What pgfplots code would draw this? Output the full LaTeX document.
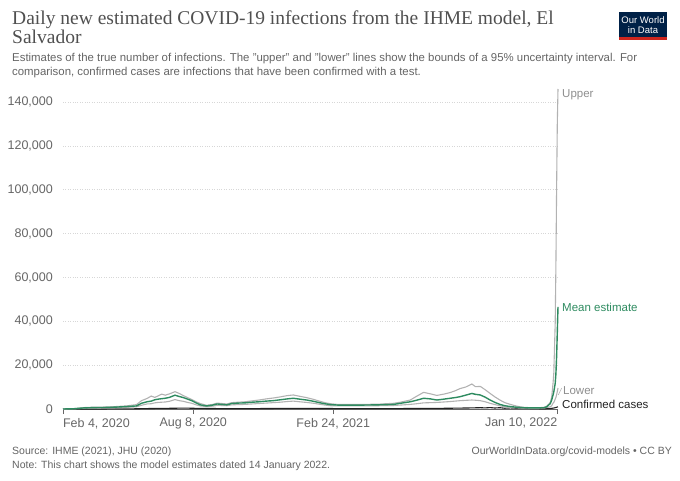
\documentclass[border=0pt]{standalone}
\usepackage{fontspec}
\setmainfont{Liberation Sans}
\newfontfamily\titlefont{Liberation Serif}
\usepackage{pgfplots}
\usepackage{pgfplotstable}
\pgfplotsset{compat=1.18}
\definecolor{titlecol}{RGB}{80,80,80}
\definecolor{subcol}{RGB}{100,100,100}
\definecolor{tickcol}{RGB}{102,102,102}
\definecolor{gridcol}{RGB}{215,215,215}
\definecolor{bandcol}{RGB}{178,178,178}
\definecolor{meancol}{RGB}{46,139,96}
\definecolor{confcol}{RGB}{34,34,34}
\definecolor{navy}{RGB}{0,33,71}
\definecolor{owidred}{RGB}{206,38,30}

\pgfplotstableread{
day mean upper lower conf
0 0 0 0 0
15 100 150 60 0
30 500 650 350 5
45 650 850 450 10
60 700 900 500 20
75 850 1100 600 40
90 1100 1400 750 60
105 1400 2000 1000 100
112 2600 3800 1700 150
120 3300 4800 2300 200
126 3600 5900 2400 220
131 4200 5300 2800 250
136 4500 6000 3000 280
141 4700 6800 3100 300
146 4900 6300 3200 300
152 5300 6900 3500 320
160 6300 7900 4300 350
166 5700 7100 3800 380
172 5200 6100 3500 400
178 4500 5200 3000 380
184 3800 4300 2600 350
190 2800 3300 1900 300
196 1900 2500 1400 270
205 1400 1700 1100 250
214 1800 2100 1300 220
220 2300 2700 1700 200
227 2100 2500 1600 180
234 1900 2300 1500 170
241 2500 2900 1900 160
250 2700 3100 2000 150
260 2800 3300 2100 160
270 3100 3700 2300 180
280 3300 4100 2500 200
290 3600 4600 2700 230
300 3800 5000 2900 250
310 4200 5500 3100 270
320 4600 6100 3400 300
329 4900 6400 3600 320
338 4500 5800 3300 310
348 4100 5200 3000 290
358 3500 4400 2600 270
366 2900 3600 2200 250
374 2400 2900 1800 230
382 2000 2400 1500 210
392 1800 2100 1400 200
410 1800 2100 1400 190
430 1800 2100 1400 180
450 1900 2200 1500 180
472 2100 2600 1600 190
482 2600 3100 1800 200
496 3300 4100 2100 220
505 4000 5800 2400 240
515 4900 7600 2800 260
525 4600 6900 2900 280
534 4100 6200 3000 300
544 4500 6800 3200 320
553 4900 7500 3400 350
560 5200 8300 3600 380
567 5600 9300 3800 420
575 6300 10000 3950 450
584 7100 11400 4100 500
589 6700 10200 4000 550
596 6400 10300 3800 600
603 5400 8800 3300 500
610 4100 7100 2600 650
617 3000 5500 2000 450
624 2100 4100 1500 600
631 1500 2900 1000 350
639 1100 2100 700 500
648 800 1300 500 300
657 600 800 400 400
667 500 600 350 250
678 500 550 350 150
687 600 750 400 100
691 1000 1300 700 150
696 2500 3000 1000 200
698 4100 5500 1500 300
700 6500 12000 2700 400
701 7800 16400 3000 450
703 11700 39000 4500 600
704 16000 65000 5300 700
705 23800 100000 6500 800
706 35000 130000 8000 900
707 46600 146000 9600 1000
}\data

\begin{document}
\begin{tikzpicture}[x=1pt,y=1pt]
\path[use as bounding box] (0,0) rectangle (680,480);
% title
\node[anchor=base west, inner sep=0pt, font=\titlefont\fontsize{19.5}{20}\selectfont, text=titlecol] at (12,455) {Daily new estimated COVID-19 infections from the IHME model, El};
\node[anchor=base west, inner sep=0pt, font=\titlefont\fontsize{19.5}{20}\selectfont, text=titlecol] at (12,436) {Salvador};
% subtitle
\node[anchor=base west, inner sep=0pt, font=\fontsize{11.4}{13}\selectfont, text=subcol] at (12,418) {Estimates of the true number of infections. The "upper" and "lower" lines show the bounds of a 95\% uncertainty interval. For};
\node[anchor=base west, inner sep=0pt, font=\fontsize{11.4}{13}\selectfont, text=subcol] at (12,404) {comparison, confirmed cases are infections that have been confirmed with a test.};
% logo
\fill[navy] (619,468) rectangle (667,440);
\fill[owidred] (619,442.5) rectangle (667,440);
\node[anchor=base, inner sep=0pt, font=\fontsize{9.5}{10}\selectfont, text=white] at (643,456.5) {Our World};
\node[anchor=base, inner sep=0pt, font=\fontsize{9.5}{10}\selectfont, text=white] at (643,446.5) {in Data};
% footer
\node[anchor=base west, inner sep=0pt, font=\fontsize{10.5}{12}\selectfont, text=subcol] at (12,26) {Source: IHME (2021), JHU (2020)};
\node[anchor=base west, inner sep=0pt, font=\fontsize{10.5}{12}\selectfont, text=subcol] at (12,12) {Note: This chart shows the model estimates dated 14 January 2022.};
\node[anchor=base east, inner sep=0pt, font=\fontsize{10.5}{12}\selectfont, text=subcol] at (672,26) {OurWorldInData.org/covid-models • CC BY};

\begin{axis}[
  at={(63pt,71pt)}, anchor=south west,
  width=495pt, height=320pt, scale only axis,
  xmin=0, xmax=707, ymin=0, ymax=146000,
  clip=false,
  axis x line*=bottom, axis y line*=left,
  y axis line style={draw=none},
  x axis line style={draw=tickcol, line width=0.8pt},
  xtick={0,186,386,706},
  xticklabels={{\makebox[0pt][l]{Feb 4, 2020}},{Aug 8, 2020},{Feb 24, 2021},{\makebox[0pt][r]{Jan 10, 2022}}},
  tick align=outside,
  major tick length=5pt,
  xtick style={draw=tickcol, line width=0.8pt},
  ytick={0,20000,40000,60000,80000,100000,120000,140000},
  ytick style={draw=none},
  scaled y ticks=false,
  /pgf/number format/.cd, fixed, 1000 sep={,}, assume math mode=true,
  /pgfplots/.cd,
  ymajorgrids,
  grid style={gridcol, dotted, line width=0.7pt},
  tick label style={font=\fontsize{12.5}{14}\selectfont, text=tickcol},
  yticklabel style={inner sep=0pt, xshift=-5pt},
  xticklabel style={inner sep=0pt, yshift=-4pt},
]
\addplot[confcol, line width=1.1pt] table[x=day, y=conf] {\data};
\addplot[bandcol, line width=1.1pt] table[x=day, y=lower] {\data};
\addplot[bandcol, line width=1.1pt] table[x=day, y=upper] {\data};
\addplot[meancol, line width=1.4pt] table[x=day, y=mean] {\data};
\end{axis}

% line-end labels
\draw[bandcol, line width=0.6pt] (558.3,85) -- (561.7,92);
\node[anchor=base west, inner sep=0pt, font=\fontsize{11.5}{13}\selectfont, text=bandcol!80!black] at (562,382) {Upper};
\node[anchor=base west, inner sep=0pt, font=\fontsize{11.5}{13}\selectfont, text=meancol] at (562,169) {Mean estimate};
\node[anchor=base west, inner sep=0pt, font=\fontsize{11.5}{13}\selectfont, text=bandcol!80!black] at (563,86) {Lower};
\node[anchor=base west, inner sep=0pt, font=\fontsize{11.5}{13}\selectfont, text=confcol] at (562,72) {Confirmed cases};
\end{tikzpicture}
\end{document}
